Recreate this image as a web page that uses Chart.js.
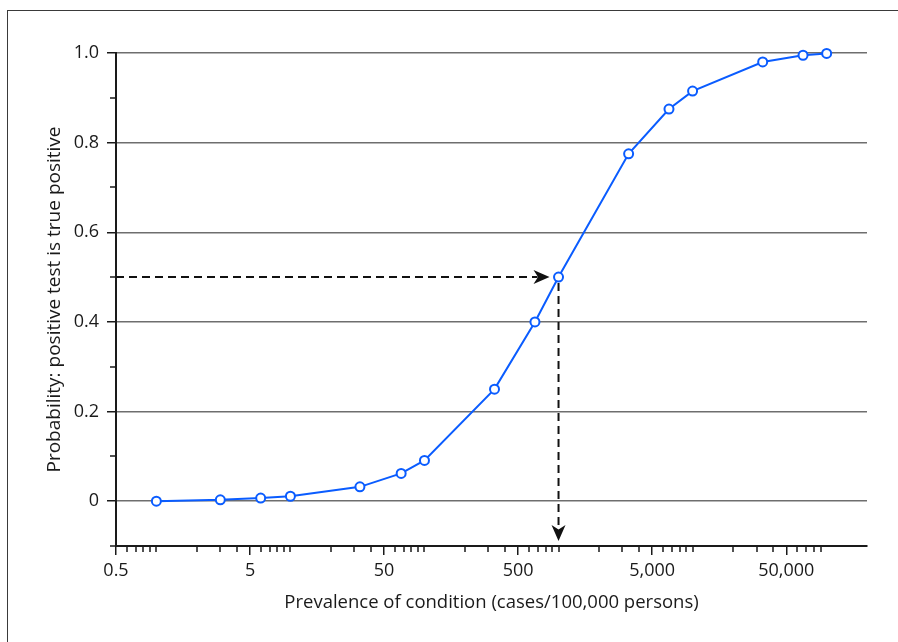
<!DOCTYPE html>
<html>
<head>
<meta charset="utf-8">
<script src="https://cdn.jsdelivr.net/npm/chart.js@4.4.1/dist/chart.umd.min.js"></script>
<style>
  html, body { margin: 0; padding: 0; background: #fff; }
  #wrap { position: relative; width: 898px; height: 642px; overflow: hidden; }
  #frame { position: absolute; left: 7px; top: 10px; right: -10px; bottom: -10px;
           border-left: 1.5px solid #3a3a3a; border-top: 1.5px solid #3a3a3a; pointer-events: none; }
  canvas { position: absolute; left: 0; top: 0; }
</style>
</head>
<body>
<div id="wrap">
  <canvas id="ppvChart" width="898" height="642"></canvas>
  <div id="frame"></div>
</div>
<script>
// Datos
const prevalence = [1, 3, 6, 10, 33, 67, 100, 333, 667, 1000, 3333, 6667, 10000, 33333, 66667, 100000];
const probability = [0, 0.003, 0.007, 0.011, 0.032, 0.062, 0.091, 0.25, 0.40, 0.50, 0.775, 0.875, 0.915, 0.98, 0.995, 0.999];

// Ticks
const xTickValues = [0.5, 5, 50, 500, 5000, 50000];
const xTickLabels = ['0.5', '5', '50', '500', '5,000', '50,000'];
const yTickValues = [0, 0.2, 0.4, 0.6, 0.8, 1.0];
const yTickLabels = ['0', '0.2', '0.4', '0.6', '0.8', '1.0'];
const yMinorTicks = [-0.1, 0.1, 0.3, 0.5, 0.7, 0.9];

// Punto marcado con flechas
const markerX = 1000;
const markerY = 0.5;

// ticks menores del eje log: 1..9 x 10^n, sin los mayores
const xMinorTicks = [];
for (let d = 0.1; d <= 10000; d *= 10) {
  for (let m = 1; m <= 9; m++) {
    const v = +(m * d).toPrecision(3);
    if (v > 0.5 && v <= 100000 && m !== 5) xMinorTicks.push(v);
  }
}

const textColor = '#1a1a1a';
const fontFamily = "'Open Sans', 'Noto Sans', sans-serif";

function drawArrowHead(ctx, tipX, tipY, dir) {
  // dir: 'right' o 'down'
  const L = 16, W = 7;
  ctx.beginPath();
  if (dir === 'right') {
    ctx.moveTo(tipX, tipY);
    ctx.lineTo(tipX - L, tipY - W);
    ctx.lineTo(tipX - L * 0.72, tipY);
    ctx.lineTo(tipX - L, tipY + W);
  } else {
    ctx.moveTo(tipX, tipY);
    ctx.lineTo(tipX - W, tipY - L);
    ctx.lineTo(tipX, tipY - L * 0.72);
    ctx.lineTo(tipX + W, tipY - L);
  }
  ctx.closePath();
  ctx.fill();
}

const extrasPlugin = {
  id: 'extras',
  beforeDatasetsDraw(chart) {
    const { ctx, chartArea, scales: { x, y } } = chart;
    ctx.save();
    // ticks menores
    ctx.strokeStyle = textColor;
    ctx.lineWidth = 1.5;
    ctx.beginPath();
    xMinorTicks.forEach(v => {
      const px = Math.round(x.getPixelForValue(v));
      ctx.moveTo(px, chartArea.bottom);
      ctx.lineTo(px, chartArea.bottom + 6);
    });
    yMinorTicks.forEach(v => {
      const py = Math.round(y.getPixelForValue(v));
      ctx.moveTo(chartArea.left, py);
      ctx.lineTo(chartArea.left - 6, py);
    });
    ctx.stroke();

    // flechas discontinuas
    const px = x.getPixelForValue(markerX);
    const py = y.getPixelForValue(markerY);
    ctx.strokeStyle = '#111';
    ctx.fillStyle = '#111';
    ctx.lineWidth = 2;
    ctx.setLineDash([8, 5]);
    const hTip = px - 9;
    ctx.beginPath();
    ctx.moveTo(chartArea.left, py);
    ctx.lineTo(hTip - 12, py);
    ctx.stroke();
    const vTip = chartArea.bottom - 5;
    ctx.beginPath();
    ctx.moveTo(px, py + 6);
    ctx.lineTo(px, vTip - 12);
    ctx.stroke();
    ctx.setLineDash([]);
    drawArrowHead(ctx, hTip, py, 'right');
    drawArrowHead(ctx, px, vTip, 'down');
    ctx.restore();
  }
};

const ctx = document.getElementById('ppvChart').getContext('2d');
const ppvChart = new Chart(ctx, {
  type: 'line',
  data: {
    datasets: [{
      label: 'PPV',
      data: prevalence.map((p, i) => ({ x: p, y: probability[i] })),
      borderColor: '#0a5cff',
      borderWidth: 2,
      pointRadius: 4.5,
      pointBorderWidth: 2,
      pointBorderColor: '#0a5cff',
      pointBackgroundColor: '#ffffff',
      tension: 0,
      clip: false
    }]
  },
  options: {
    responsive: false,
    animation: false,
    layout: { padding: { top: 53, right: 31, left: 0, bottom: 0 } },
    plugins: {
      legend: { display: false },
      tooltip: { enabled: false }
    },
    scales: {
      x: {
        type: 'logarithmic',
        min: 0.5,
        max: 200000,
        afterBuildTicks: (scale) => { scale.ticks = xTickValues.map(v => ({ value: v })); },
        afterFit: (scale) => { scale.height = 96; },
        grid: {
          drawOnChartArea: false,
          drawTicks: true,
          tickLength: 9,
          color: textColor,
          lineWidth: 1.5
        },
        border: { display: true, color: textColor, width: 2 },
        ticks: {
          autoSkip: false,
          maxRotation: 0,
          padding: 5,
          color: textColor,
          font: { family: fontFamily, size: 18 },
          callback: (v, i) => xTickLabels[i]
        },
        title: {
          display: true,
          text: 'Prevalence of condition (cases/100,000 persons)',
          color: textColor,
          font: { family: fontFamily, size: 18.5 },
          padding: { top: 0, bottom: 28 }
        }
      },
      y: {
        type: 'linear',
        min: -0.1,
        max: 1.0,
        afterBuildTicks: (scale) => { scale.ticks = yTickValues.map(v => ({ value: v })); },
        afterFit: (scale) => { scale.width = 116; },
        grid: {
          color: '#6e6e6e',
          lineWidth: 1.5,
          tickColor: textColor,
          tickLength: 9,
          tickWidth: 1.5
        },
        border: { display: true, color: textColor, width: 2 },
        ticks: {
          padding: 8,
          color: textColor,
          font: { family: fontFamily, size: 18 },
          callback: (v, i) => yTickLabels[i]
        },
        title: {
          display: true,
          text: 'Probability: positive test is true positive',
          color: textColor,
          font: { family: fontFamily, size: 19 },
          padding: { top: 43, bottom: 0 }
        }
      }
    }
  },
  plugins: [extrasPlugin]
});
</script>
</body>
</html>
